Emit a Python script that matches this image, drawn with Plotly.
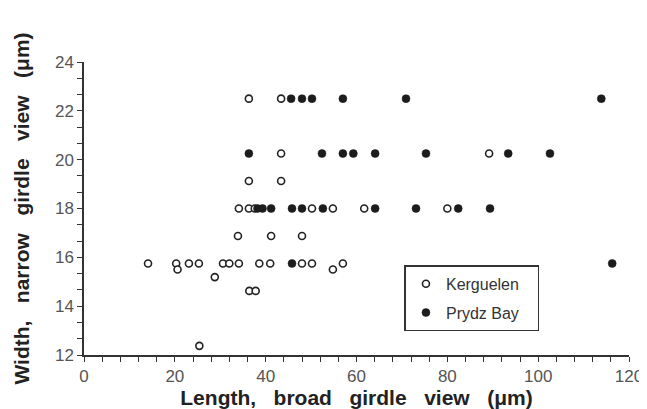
import plotly.graph_objects as go

# Kerguelen (open circles)
kerg_len = [36.3, 43.4, 43.4, 89.2, 36.3, 43.4,
            34.1, 36.3, 37.6, 50.2, 54.8, 61.7, 80.0,
            33.9, 41.2, 48.0,
            14.1, 20.3, 23.1, 25.3, 30.6, 32.0, 34.1, 38.6, 41.0, 48.0, 50.2, 57.0,
            20.6, 54.8, 28.8, 36.4, 37.8, 25.4]
kerg_wid = [22.5, 22.5, 20.25, 20.25, 19.125, 19.125,
            18.0, 18.0, 18.0, 18.0, 18.0, 18.0, 18.0,
            16.875, 16.875, 16.875,
            15.75, 15.75, 15.75, 15.75, 15.75, 15.75, 15.75, 15.75, 15.75, 15.75, 15.75, 15.75,
            15.5, 15.5, 15.19, 14.625, 14.625, 12.375]

# Prydz Bay (filled circles)
prydz_len = [45.6, 48.0, 50.2, 57.0, 70.9, 113.9,
             36.3, 52.4, 57.0, 59.3, 64.1, 75.3, 93.4, 102.6,
             38.2, 39.3, 41.2, 45.8, 48.0, 52.6, 64.1, 73.1, 82.4, 89.4,
             45.8, 116.3]
prydz_wid = [22.5, 22.5, 22.5, 22.5, 22.5, 22.5,
             20.25, 20.25, 20.25, 20.25, 20.25, 20.25, 20.25, 20.25,
             18.0, 18.0, 18.0, 18.0, 18.0, 18.0, 18.0, 18.0, 18.0, 18.0,
             15.75, 15.75]

x_ticks = [0, 20, 40, 60, 80, 100, 120]
y_ticks = [12, 14, 16, 18, 20, 22, 24]

SP = "\u00a0\u00a0\u00a0"
FONT = "Liberation Sans, Arial, sans-serif"

fig = go.Figure()
fig.add_trace(go.Scatter(
    x=kerg_len, y=kerg_wid, mode="markers", name="Kerguelen\u00a0\u00a0\u00a0",
    legendgroup="k",
    marker=dict(symbol="circle", size=7, color="white",
                line=dict(color="#222", width=1.6)),
))
fig.add_trace(go.Scatter(
    x=prydz_len, y=prydz_wid, mode="markers", name="Prydz Bay\u00a0\u00a0\u00a0",
    legendgroup="p",
    marker=dict(symbol="circle", size=8, color="#1c1c1c",
                line=dict(color="#1c1c1c", width=0.5)),
))

axis_common = dict(
    showline=True, linecolor="#333", linewidth=1.5,
    ticks="outside", ticklen=5, tickwidth=1.3, tickcolor="#333",
    showgrid=False, zeroline=False,
    tickfont=dict(family=FONT, size=17, color="#555"),
    mirror=False,
)

fig.update_layout(
    width=647, height=409,
    margin=dict(l=76, r=22, t=54, b=54),
    paper_bgcolor="white", plot_bgcolor="white",
    showlegend=True,
    legend=dict(
        x=0.588, y=0.306, xanchor="left", yanchor="top",
        bordercolor="#333", borderwidth=1.5, bgcolor="white",
        font=dict(family=FONT, size=16, color="#333"),
        tracegroupgap=5,
    ),
    xaxis=dict(
        range=[0, 120], tickvals=x_ticks, ticktext=[str(v) for v in x_ticks],
        minor=dict(dtick=4, ticks="outside", ticklen=5, tickcolor="#333", tickwidth=1.2),
        title=dict(text="Length," + SP + "broad" + SP + "girdle" + SP + "view" + SP + "(μm)",
                   font=dict(family=FONT, size=21, color="#222", weight="bold"),
                   standoff=4),
        **axis_common,
    ),
    yaxis=dict(
        range=[12, 24], tickvals=y_ticks, ticktext=[str(v) for v in y_ticks],
        minor=dict(dtick=2 / 3, tick0=12, ticks="outside", ticklen=5, tickcolor="#333", tickwidth=1.2),
        title=dict(text="Width," + SP + "narrow" + SP + "girdle" + SP + "view" + SP + "(μm)",
                   font=dict(family=FONT, size=21, color="#222", weight="bold"),
                   standoff=20),
        **axis_common,
    ),
)

fig.write_html("out.html")
